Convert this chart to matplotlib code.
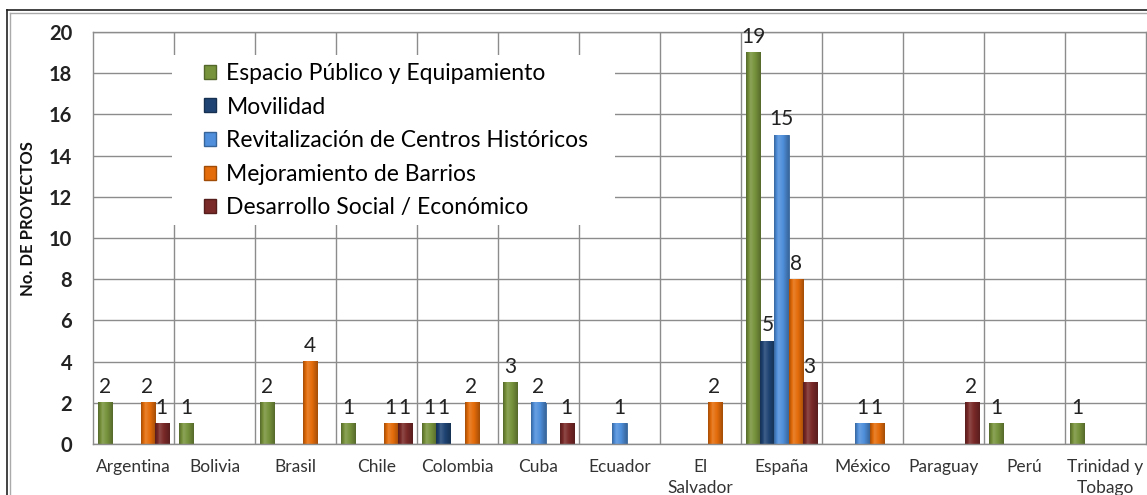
import numpy as np
import matplotlib
matplotlib.use("Agg")
import matplotlib.pyplot as plt
from matplotlib.patches import Patch, Rectangle
from matplotlib.lines import Line2D
from matplotlib.colors import to_rgb

plt.rcParams['font.family'] = ['Lato', 'DejaVu Sans']

countries = ['Argentina', 'Bolivia', 'Brasil', 'Chile', 'Colombia', 'Cuba', 'Ecuador',
             'El\nSalvador', 'España', 'México', 'Paraguay', 'Perú', 'Trinidad y\nTobago']
series_names = ['Espacio Público y Equipamiento', 'Movilidad',
                'Revitalización de Centros Históricos', 'Mejoramiento de Barrios',
                'Desarrollo Social / Económico']
espacio = [2, 1, 2, 1, 1, 3, 0, 0, 19, 0, 0, 1, 1]
movilidad = [0, 0, 0, 0, 1, 0, 0, 0, 5, 0, 0, 0, 0]
revitalizacion = [0, 0, 0, 0, 0, 2, 1, 0, 15, 1, 0, 0, 0]
mejoramiento = [2, 0, 4, 1, 2, 0, 0, 2, 8, 1, 0, 0, 0]
desarrollo = [1, 0, 0, 1, 0, 1, 0, 0, 3, 0, 2, 0, 0]
y_ticks = [0, 2, 4, 6, 8, 10, 12, 14, 16, 18, 20]

series = [espacio, movilidad, revitalizacion, mejoramiento, desarrollo]
colors = ['#77933C', '#1F4474', '#4F8FDB', '#E46C0A', '#7A2A28']

W, H = 1147, 495
fig = plt.figure(figsize=(W / 100, H / 100), dpi=100)
ax = fig.add_axes([93 / W, (H - 444) / H, (1146 - 93) / W, 412 / H])

x = np.arange(len(countries))
bw = 0.173


def shade(c, f):
    r = np.array(to_rgb(c))
    if f >= 1:
        return r + (1 - r) * (f - 1)
    return r * f


for i, (vals, col) in enumerate(zip(series, colors)):
    bars = ax.bar(x + (i - 2) * bw, vals, bw, color=col, zorder=2,
                  edgecolor=shade(col, 0.7), linewidth=0.6)
    n = 40
    t = np.linspace(0, 1, n)
    stops = [(0, 0.72), (0.3, 1.15), (0.6, 1.0), (1.0, 0.72)]
    fs = np.interp(t, [s[0] for s in stops], [s[1] for s in stops])
    grad = np.array([shade(col, f) for f in fs])[None, :, :]
    for b in bars:
        h = b.get_height()
        if h <= 0:
            continue
        x0 = b.get_x()
        ax.imshow(grad, extent=(x0, x0 + b.get_width(), 0, h), aspect='auto',
                  zorder=2.1, interpolation='bilinear')
    labels = [str(v) if v else '' for v in vals]
    ax.bar_label(bars, labels=labels, padding=4, fontsize=15, color='#222222', zorder=3)

ax.set_xlim(-0.5, len(countries) - 0.5)
ax.set_ylim(0, 20)
ax.set_yticks(y_ticks)
ax.set_yticklabels([str(v) for v in y_ticks], fontsize=14.5, fontweight='bold', color='#222222')
ax.set_xticks(x)
ax.set_xticklabels(countries, fontsize=12.5, color='#333333', linespacing=1.4)
ax.set_xticks(np.arange(0.5, len(countries) - 0.5, 1), minor=True)
ax.tick_params(axis='both', which='both', length=0)
ax.tick_params(axis='y', pad=15)
ax.tick_params(axis='x', pad=11)
ax.set_axisbelow(True)
ax.grid(axis='y', which='major', color='#8c8c8c', linewidth=1)
ax.grid(axis='x', which='minor', color='#8c8c8c', linewidth=1)
for s in ax.spines.values():
    s.set_color('#8c8c8c')
    s.set_linewidth(1)

# legend background
ax.add_patch(Rectangle((0.075, 0.532), 0.421, 0.412, transform=ax.transAxes,
                       facecolor='white', edgecolor='none', zorder=1))
handles = [Patch(facecolor=c, edgecolor=shade(c, 0.7)) for c in colors]
ax.legend(handles, series_names, loc='upper left', bbox_to_anchor=(0.105, 0.925),
          frameon=False, borderpad=0, fontsize=16.5, handlelength=0.55,
          handleheight=0.55, handletextpad=0.45, labelspacing=0.55, borderaxespad=0)

fig.text(28 / W, (H - 219) / H, 'No. DE PROYECTOS', rotation=90, fontsize=12,
         fontweight='bold', color='#111111', ha='center', va='center')

# outer chart border (double line)
fig.add_artist(Line2D([7 / W, 1.0], [(H - 10) / H, (H - 10) / H], color='#222222', lw=1.2,
                      transform=fig.transFigure))
fig.add_artist(Line2D([7 / W, 7 / W], [0, (H - 10) / H], color='#222222', lw=1.2,
                      transform=fig.transFigure))
fig.add_artist(Line2D([10 / W, 1.0], [(H - 13) / H, (H - 13) / H], color='#aaaaaa', lw=1,
                      transform=fig.transFigure))
fig.add_artist(Line2D([10 / W, 10 / W], [0, (H - 13) / H], color='#aaaaaa', lw=1,
                      transform=fig.transFigure))

fig.savefig('out.png', dpi=100)
